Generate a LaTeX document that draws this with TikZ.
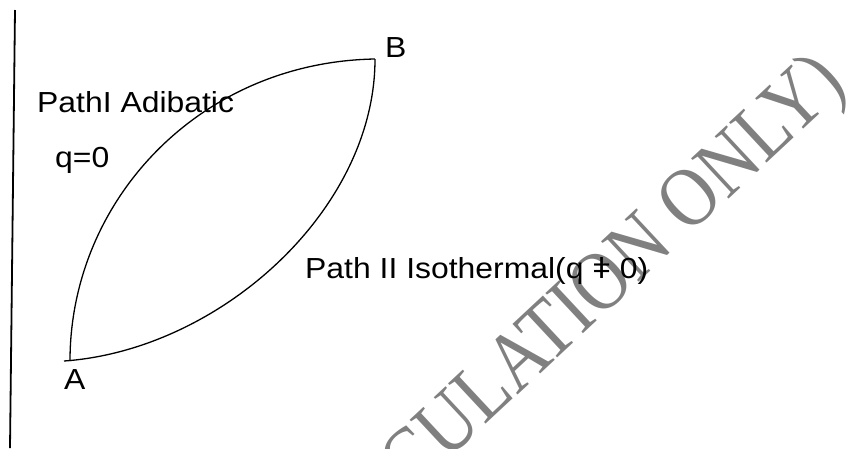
\documentclass[tikz,border=0pt]{standalone}
\usepackage{fontspec}
\setmainfont{Liberation Sans}
\newfontfamily\lblfont[FakeStretch=1.1]{Liberation Sans}
\newfontfamily\wmfont[FakeStretch=0.86]{Liberation Serif}
\begin{document}
\begin{tikzpicture}[x=1pt,y=-1pt,
  lbl/.style={anchor=base west, inner sep=0pt, font=\lblfont\fontsize{29}{34}\selectfont},
  curve/.style={line width=1.3pt},
  wm/.style={font=\wmfont\fontsize{84}{90}\selectfont, text=black!50, rotate=43, inner sep=0pt}]
\useasboundingbox (0,0) rectangle (846,448);
\clip (0,0) rectangle (846,448);
\node[wm] (wm) at (616,276) {CULATION ONLY)};
\coordinate (top) at (15,10);
\coordinate (bot) at (10,448);
\draw[line width=1.8pt] (top) -- (bot);
\coordinate (A) at (70,361);
\coordinate (A2) at (64,361);
\coordinate (B) at (375,59);
\draw[curve] (A) .. controls (70,200) and (200,62) .. (B);
\draw[curve] (A2) .. controls (220,350) and (375,210) .. (B);
\node[lbl] (lA) at (64,389) {A};
\node[lbl] (lB) at (385,57) {B};
\node[lbl] (p1) at (37,112) {PathI Adibatic};
\node[lbl] (q0) at (55,167) {q=0};
\node[lbl] (p2) at (305,278) {Path II Isothermal(q ǂ 0)};
\end{tikzpicture}
\end{document}
